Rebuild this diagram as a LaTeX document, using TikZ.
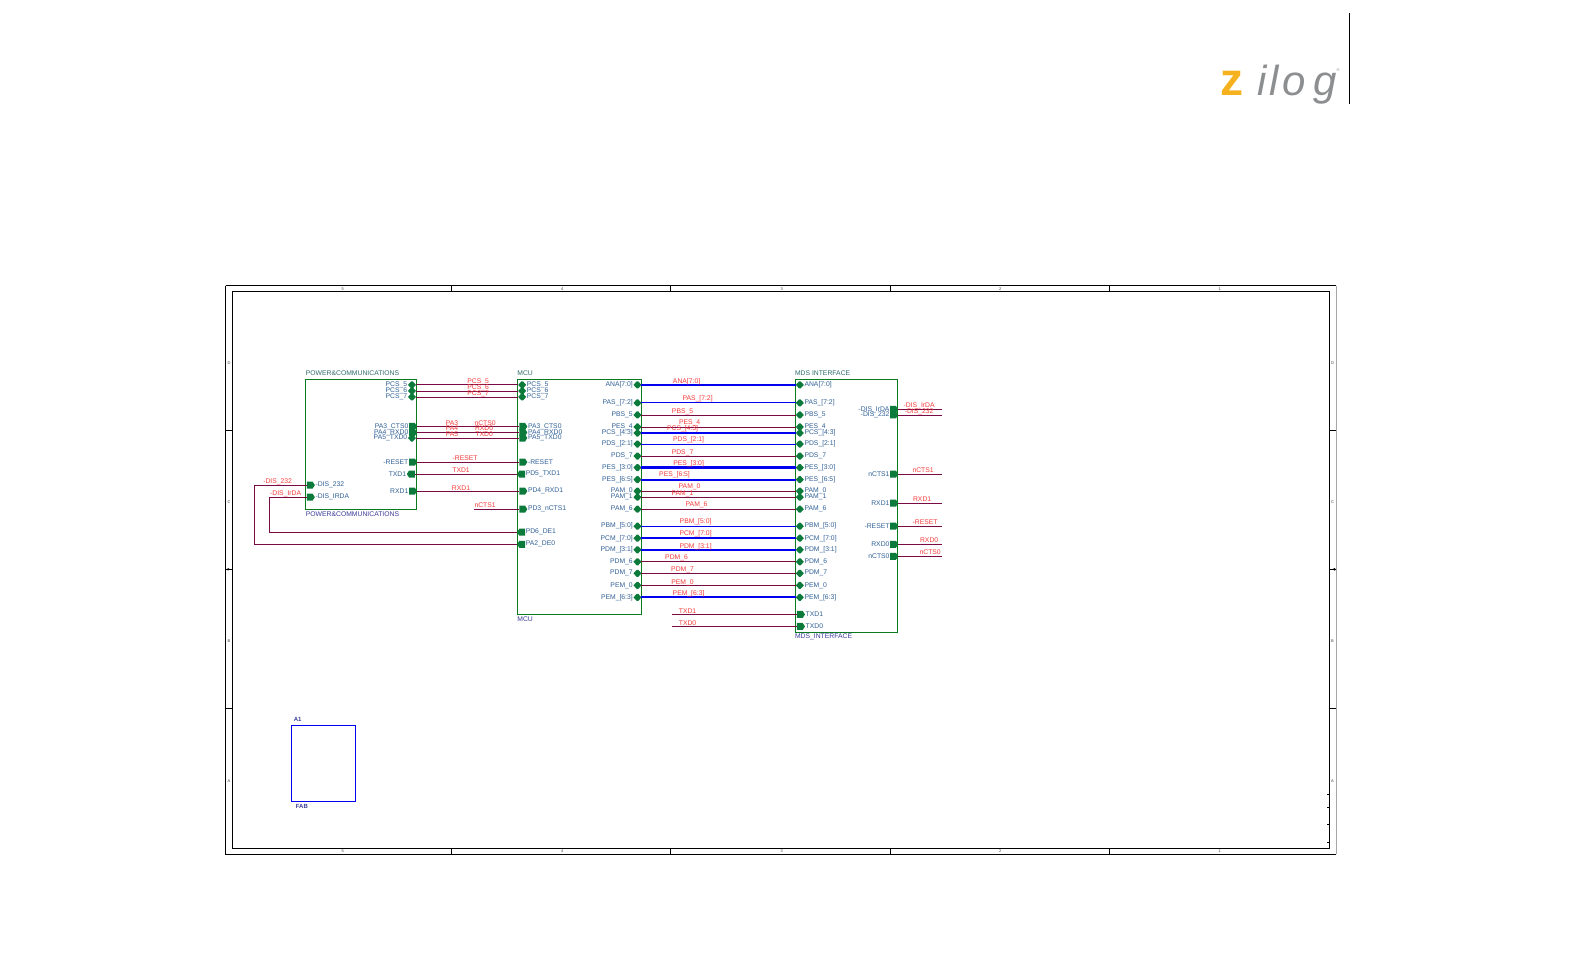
\documentclass[tikz,border=0pt]{standalone}
\usepackage{fontspec}
\setmainfont{Liberation Sans}
\usetikzlibrary{shapes.symbols, positioning, arrows.meta}
\definecolor{pingreen}{HTML}{0B7A3A}
\definecolor{boxgreen}{HTML}{0A7A1E}
\definecolor{wirepurple}{HTML}{7A0A44}
\definecolor{busblue}{HTML}{0000EE}
\definecolor{pintext}{HTML}{2F5F95}
\definecolor{titletext}{HTML}{2F6A6A}
\definecolor{nametext}{HTML}{3A3A9A}
\definecolor{nettext}{HTML}{F53A3A}
\definecolor{logogray}{HTML}{8C8E90}
\definecolor{logoyellow}{HTML}{F5B21E}
\tikzset{>=latex,
    smalltext/.style={font=\fontsize{6.8}{7}\selectfont,inner sep=0pt},
    pinbase/.style={signal,fill=pingreen,minimum width=8pt,minimum height=7pt,inner sep=0pt,outer sep=0pt},
    pinE/.style={pinbase,signal pointer angle=115,signal to=east},
    pinW/.style={pinbase,signal pointer angle=115,signal to=west},
    pinH/.style={pinbase,signal pointer angle=95,signal to=east and west},
    pintag/.style={smalltext,text=pintext,label distance=.5pt},
    nettag/.style={smalltext,text=nettext},
    titletag/.style={smalltext,text=titletext,anchor=west},
    nametag/.style={smalltext,text=nametext,anchor=west},
    sheet/.style={draw=boxgreen,line width=.9pt},
    wire/.style={draw=wirepurple,line width=.8pt},
    busA/.style={draw=busblue,line width=.9pt},
    busB/.style={draw=busblue,line width=2.2pt},
    frameline/.style={draw=black,line width=.9pt},
    zonetag/.style={font=\fontsize{4}{4}\selectfont,text=darkgray,inner sep=0pt},
    logotext/.style={text=logogray,anchor=base west,inner sep=0pt,font=\fontsize{42}{42}\itshape\selectfont},
}
\begin{document}
\begin{tikzpicture}[x=1.0023pt,y=-1.0023pt]
    \useasboundingbox (0pt,0pt) rectangle (1572pt,-954pt);
    % logo
    \node[text=logoyellow,anchor=base west,inner sep=0pt,font=\fontsize{46}{46}\bfseries\selectfont] (logoz) at (1217,95) {z};
    \node[logotext] (logoi) at (1254,95) {i};
    \node[logotext] (logol) at (1266,95) {l};
    \node[logotext] (logoo) at (1279,95) {o};
    \node[logotext] (logog) at (1310,95) {g};
    \node[text=logogray,inner sep=0pt,font=\fontsize{4}{4}\selectfont] (logor) at (1335,70) {®};
    \draw[black,line width=1pt] (1346,13) -- (1346,104);
    % frame
    \draw[frameline] (225,285) -- (1333,285) (225,285) -- (225,852) -- (1333,852);
    \draw[draw=gray!70,line width=.9pt] (1333,285) -- (1333,852);
    \draw[frameline] (232,291) rectangle (1326,846);
    \draw[frameline] (225,429) -- (232,429) (225,707) -- (232,707) (1326,429) -- (1333,429) (1326,707) -- (1333,707);
    \draw[black,line width=.7pt] (225,568) -- (232,568) (1326,568) -- (1333,568);
    \draw[black,line width=.7pt,-{Latex[length=3pt,width=3pt]}] (225,568) -- (230,568);
    \draw[black,line width=.7pt,-{Latex[length=3pt,width=3pt]}] (1333,568) -- (1329,568);
    \draw[black,line width=.7pt] (450,285) -- (450,291) (669,285) -- (669,291) (888,285) -- (888,291) (1107,285) -- (1107,291);
    \draw[black,line width=.7pt] (450,846) -- (450,852) (669,846) -- (669,852) (888,846) -- (888,852) (1107,846) -- (1107,852);
    \draw[black,line width=.7pt] (1324,793) -- (1326,793) (1324,805) -- (1326,805) (1324,822) -- (1326,822) (1324,840) -- (1326,840);
    \node[zonetag] (zL1) at (228.5,362) {D};
    \node[zonetag] (zL2) at (228.5,501) {C};
    \node[zonetag] (zL3) at (228.5,640) {B};
    \node[zonetag] (zL4) at (228.5,779) {A};
    \node[zonetag] (zR1) at (1329.5,362) {D};
    \node[zonetag] (zR2) at (1329.5,501) {C};
    \node[zonetag] (zR3) at (1329.5,640) {B};
    \node[zonetag] (zR4) at (1329.5,779) {A};
    \node[zonetag] (zT1) at (342,288) {5};
    \node[zonetag] (zT2) at (561,288) {4};
    \node[zonetag] (zT3) at (780,288) {3};
    \node[zonetag] (zT4) at (998,288) {2};
    \node[zonetag] (zT5) at (1217,288) {1};
    \node[zonetag] (zB1) at (342,849) {5};
    \node[zonetag] (zB2) at (561,849) {4};
    \node[zonetag] (zB3) at (780,849) {3};
    \node[zonetag] (zB4) at (998,849) {2};
    \node[zonetag] (zB5) at (1217,849) {1};
    % sheets
    \draw[sheet] (305,379) rectangle (415,508);
    \draw[sheet] (516.5,379) rectangle (640,613);
    \draw[sheet] (794,379) rectangle (895,631);
    \node[titletag] (tPwr) at (305,372.5) {POWER\&COMMUNICATIONS};
    \node[titletag] (tMcu) at (516,372.5) {MCU};
    \node[titletag] (tMds) at (793,372.5) {MDS INTERFACE};
    \node[nametag] (nPwr) at (305,512.5) {POWER\&COMMUNICATIONS};
    \node[nametag] (nMcu) at (516,617.5) {MCU};
    \node[nametag] (nMds) at (793,635.5) {MDS\_INTERFACE};
    \draw[busblue,line width=1pt] (291,724) rectangle (355,800);
    \node[nametag,font=\fontsize{6}{7}\bfseries\selectfont] (nA1) at (293,718) {A1};
    \node[nametag,font=\fontsize{6}{7}\bfseries\selectfont] (nFab) at (295,804.5) {FAB};
    % power sheet pins
    \node[pinH,label={[pintag]left:PCS\_5}] (pwrA) at (411,384) {};
    \node[pinH,label={[pintag]left:PCS\_6}] (pwrB) at (411,390) {};
    \node[pinH,label={[pintag]left:PCS\_7}] (pwrC) at (411,396) {};
    \node[pinE,label={[pintag]left:PA3\_CTS0}] (pwrD) at (411,425.5) {};
    \node[pinE,label={[pintag]left:PA4\_RXD0}] (pwrE) at (411,431.5) {};
    \node[pinH,label={[pintag]left:PA5\_TXD0}] (pwrF) at (411,437) {};
    \node[pinE,label={[pintag]left:-RESET}] (pwrG) at (411,461) {};
    \node[pinW,label={[pintag]left:TXD1}] (pwrH) at (411,473) {};
    \node[pinE,label={[pintag]left:RXD1}] (pwrI) at (411,490) {};
    \node[pinE,label={[pintag]right:-DIS\_232}] (pwrJ) at (309,484) {};
    \node[pinE,label={[pintag]right:-DIS\_IRDA}] (pwrK) at (309,496) {};
    % mcu sheet pins, left side
    \node[pinH,label={[pintag]right:PCS\_5}] (mcuA) at (521,384) {};
    \node[pinH,label={[pintag]right:PCS\_6}] (mcuB) at (521,390) {};
    \node[pinH,label={[pintag]right:PCS\_7}] (mcuC) at (521,396) {};
    \node[pinE,label={[pintag]right:PA3\_CTS0}] (mcuD) at (521,425.5) {};
    \node[pinE,label={[pintag]right:PA4\_RXD0}] (mcuE) at (521,431.5) {};
    \node[pinE,label={[pintag]right:PA5\_TXD0}] (mcuF) at (521,437) {};
    \node[pinE,label={[pintag]right:-RESET}] (mcuG) at (521,461) {};
    \node[pinW,label={[pintag]right:PD5\_TXD1}] (mcuH) at (521,473) {};
    \node[pinE,label={[pintag]right:PD4\_RXD1}] (mcuI) at (521,490) {};
    \node[pinE,label={[pintag]right:PD3\_nCTS1}] (mcuJ) at (521,508) {};
    \node[pinW,label={[pintag]right:PD6\_DE1}] (mcuK) at (521,531) {};
    \node[pinW,label={[pintag]right:PA2\_DE0}] (mcuL) at (521,543) {};
    % mcu sheet pins, right side
    \node[pinH,label={[pintag]left:{ANA[7:0]}}] (busA) at (636,384) {};
    \node[pinH,label={[pintag]left:{PAS\_[7:2]}}] (busB) at (636,402) {};
    \node[pinH,label={[pintag]left:PBS\_5}] (busC) at (636,414) {};
    \node[pinH,label={[pintag]left:PES\_4}] (busD) at (636,426) {};
    \node[pinH,label={[pintag]left:{PCS\_[4:3]}}] (busE) at (636,432) {};
    \node[pinH,label={[pintag]left:{PDS\_[2:1]}}] (busF) at (636,443) {};
    \node[pinH,label={[pintag]left:PDS\_7}] (busG) at (636,455) {};
    \node[pinH,label={[pintag]left:{PES\_[3:0]}}] (busH) at (636,466.5) {};
    \node[pinH,label={[pintag]left:{PES\_[6:5]}}] (busI) at (636,478.5) {};
    \node[pinH,label={[pintag]left:PAM\_0}] (busJ) at (636,490) {};
    \node[pinH,label={[pintag]left:PAM\_1}] (busK) at (636,496) {};
    \node[pinH,label={[pintag]left:PAM\_6}] (busL) at (636,508) {};
    \node[pinH,label={[pintag]left:{PBM\_[5:0]}}] (busM) at (636,525) {};
    \node[pinH,label={[pintag]left:{PCM\_[7:0]}}] (busN) at (636,537) {};
    \node[pinH,label={[pintag]left:{PDM\_[3:1]}}] (busO) at (636,548.5) {};
    \node[pinH,label={[pintag]left:PDM\_6}] (busP) at (636,560.5) {};
    \node[pinH,label={[pintag]left:PDM\_7}] (busQ) at (636,572) {};
    \node[pinH,label={[pintag]left:PEM\_0}] (busR) at (636,584) {};
    \node[pinH,label={[pintag]left:{PEM\_[6:3]}}] (busS) at (636,596) {};
    % mds sheet pins, left side
    \node[pinH,label={[pintag]right:{ANA[7:0]}}] (mdsA) at (798,384) {};
    \node[pinH,label={[pintag]right:{PAS\_[7:2]}}] (mdsB) at (798,402) {};
    \node[pinH,label={[pintag]right:PBS\_5}] (mdsC) at (798,414) {};
    \node[pinH,label={[pintag]right:PES\_4}] (mdsD) at (798,426) {};
    \node[pinH,label={[pintag]right:{PCS\_[4:3]}}] (mdsE) at (798,432) {};
    \node[pinH,label={[pintag]right:{PDS\_[2:1]}}] (mdsF) at (798,443) {};
    \node[pinH,label={[pintag]right:PDS\_7}] (mdsG) at (798,455) {};
    \node[pinH,label={[pintag]right:{PES\_[3:0]}}] (mdsH) at (798,466.5) {};
    \node[pinH,label={[pintag]right:{PES\_[6:5]}}] (mdsI) at (798,478.5) {};
    \node[pinH,label={[pintag]right:PAM\_0}] (mdsJ) at (798,490) {};
    \node[pinH,label={[pintag]right:PAM\_1}] (mdsK) at (798,496) {};
    \node[pinH,label={[pintag]right:PAM\_6}] (mdsL) at (798,508) {};
    \node[pinH,label={[pintag]right:{PBM\_[5:0]}}] (mdsM) at (798,525) {};
    \node[pinH,label={[pintag]right:{PCM\_[7:0]}}] (mdsN) at (798,537) {};
    \node[pinH,label={[pintag]right:{PDM\_[3:1]}}] (mdsO) at (798,548.5) {};
    \node[pinH,label={[pintag]right:PDM\_6}] (mdsP) at (798,560.5) {};
    \node[pinH,label={[pintag]right:PDM\_7}] (mdsQ) at (798,572) {};
    \node[pinH,label={[pintag]right:PEM\_0}] (mdsR) at (798,584) {};
    \node[pinH,label={[pintag]right:{PEM\_[6:3]}}] (mdsS) at (798,596) {};
    \node[pinE,label={[pintag]right:TXD1}] (mdsT) at (798,613) {};
    \node[pinE,label={[pintag]right:TXD0}] (mdsU) at (798,625) {};
    % mds sheet pins, right side
    \node[pinE,label={[pintag]left:-DIS\_IrDA}] (mdsV) at (891,408.5) {};
    \node[pinE,label={[pintag]left:-DIS\_232}] (mdsW) at (891,414) {};
    \node[pinE,label={[pintag]left:nCTS1}] (mdsX) at (891,473) {};
    \node[pinE,label={[pintag]left:RXD1}] (mdsY) at (891,502) {};
    \node[pinE,label={[pintag]left:-RESET}] (mdsZ) at (891,525) {};
    \node[pinE,label={[pintag]left:RXD0}] (mdsAA) at (891,543) {};
    \node[pinE,label={[pintag]left:nCTS0}] (mdsAB) at (891,555) {};
    % free ends
    \coordinate (endA) at (473,508);
    \coordinate (endB) at (670,613);
    \coordinate (endC) at (670,625);
    \coordinate (endD) at (940,408.5);
    \coordinate (endE) at (940,414);
    \coordinate (endF) at (940,473);
    \coordinate (endG) at (940,502);
    \coordinate (endH) at (940,525);
    \coordinate (endI) at (940,543);
    \coordinate (endJ) at (940,555);
    \coordinate (turnA) at (254,510);
    \coordinate (turnB) at (269,510);
    % wires
    \path[wire]
        (pwrA) edge (mcuA)
        (pwrB) edge (mcuB)
        (pwrC) edge (mcuC)
        (pwrD) edge (mcuD)
        (pwrE) edge (mcuE)
        (pwrF) edge (mcuF)
        (pwrG) edge (mcuG)
        (pwrH) edge (mcuH)
        (pwrI) edge (mcuI)
        (endA) edge (mcuJ)
        (busC) edge (mdsC)
        (busD) edge (mdsD)
        (busG) edge (mdsG)
        (busJ) edge (mdsJ)
        (busK) edge (mdsK)
        (busL) edge (mdsL)
        (busP) edge (mdsP)
        (busQ) edge (mdsQ)
        (busR) edge (mdsR)
        (endB) edge (mdsT)
        (endC) edge (mdsU)
        (mdsV) edge (endD)
        (mdsW) edge (endE)
        (mdsX) edge (endF)
        (mdsY) edge (endG)
        (mdsZ) edge (endH)
        (mdsAA) edge (endI)
        (mdsAB) edge (endJ)
    ;
    \draw[wire] (pwrJ) -| (turnA) |- (mcuL);
    \draw[wire] (pwrK) -| (turnB) |- (mcuK);
    \path[busA]
        (busB) edge (mdsB)
        (busF) edge (mdsF)
        (busM) edge (mdsM)
    ;
    \path[busB]
        (busA) edge (mdsA)
        (busE) edge (mdsE)
        (busH) edge (mdsH)
        (busI) edge (mdsI)
        (busN) edge (mdsN)
        (busO) edge (mdsO)
        (busS) edge (mdsS)
    ;
    % net labels
    \node[nettag] (lbA) at (477,380.5) {PCS\_5};
    \node[nettag] (lbB) at (477,386.5) {PCS\_6};
    \node[nettag] (lbC) at (477,392.5) {PCS\_7};
    \node[nettag] (lbD) at (451,422) {PA3};
    \node[nettag] (lbE) at (451,427.5) {PA4};
    \node[nettag] (lbF) at (451,433.5) {PA5};
    \node[nettag] (lbG) at (484,422) {nCTS0};
    \node[nettag] (lbH) at (483,427.5) {RXD0};
    \node[nettag] (lbI) at (483,433.5) {TXD0};
    \node[nettag] (lbJ) at (464,457) {-RESET};
    \node[nettag] (lbK) at (460,469) {TXD1};
    \node[nettag] (lbL) at (460,487) {RXD1};
    \node[nettag] (lbM) at (484,504) {nCTS1};
    \node[nettag] (lbN) at (277,481) {-DIS\_232};
    \node[nettag] (lbO) at (285,492.5) {-DIS\_IrDA};
    \node[nettag] (lbP) at (685,381) {ANA[7:0]};
    \node[nettag] (lbQ) at (696,398) {PAS\_[7:2]};
    \node[nettag] (lbR) at (681,411) {PBS\_5};
    \node[nettag] (lbS) at (688,422) {PES\_4};
    \node[nettag] (lbT) at (681,428) {PCS\_[4:3]};
    \node[nettag] (lbU) at (687,439) {PDS\_[2:1]};
    \node[nettag] (lbV) at (681,452) {PDS\_7};
    \node[nettag] (lbW) at (687,462.5) {PES\_[3:0]};
    \node[nettag] (lbX) at (673,474) {PES\_[6:5]};
    \node[nettag] (lbY) at (688,486) {PAM\_0};
    \node[nettag] (lbZ) at (681,492.5) {PAM\_1};
    \node[nettag] (lbAA) at (695,504) {PAM\_6};
    \node[nettag] (lbAB) at (694,521) {PBM\_[5:0]};
    \node[nettag] (lbAC) at (694,533) {PCM\_[7:0]};
    \node[nettag] (lbAD) at (694,545) {PDM\_[3:1]};
    \node[nettag] (lbAE) at (675,557) {PDM\_6};
    \node[nettag] (lbAF) at (681,569) {PDM\_7};
    \node[nettag] (lbAG) at (681,581) {PEM\_0};
    \node[nettag] (lbAH) at (687,592) {PEM\_[6:3]};
    \node[nettag] (lbAI) at (686,610) {TXD1};
    \node[nettag] (lbAJ) at (686,622) {TXD0};
    \node[nettag] (lbAK) at (917,405) {-DIS\_IrDA};
    \node[nettag] (lbAL) at (917,411) {-DIS\_232};
    \node[nettag] (lbAM) at (921,469) {nCTS1};
    \node[nettag] (lbAN) at (920,498) {RXD1};
    \node[nettag] (lbAO) at (923,521) {-RESET};
    \node[nettag] (lbAP) at (927,539) {RXD0};
    \node[nettag] (lbAQ) at (928,551) {nCTS0};
\end{tikzpicture}
\end{document}
